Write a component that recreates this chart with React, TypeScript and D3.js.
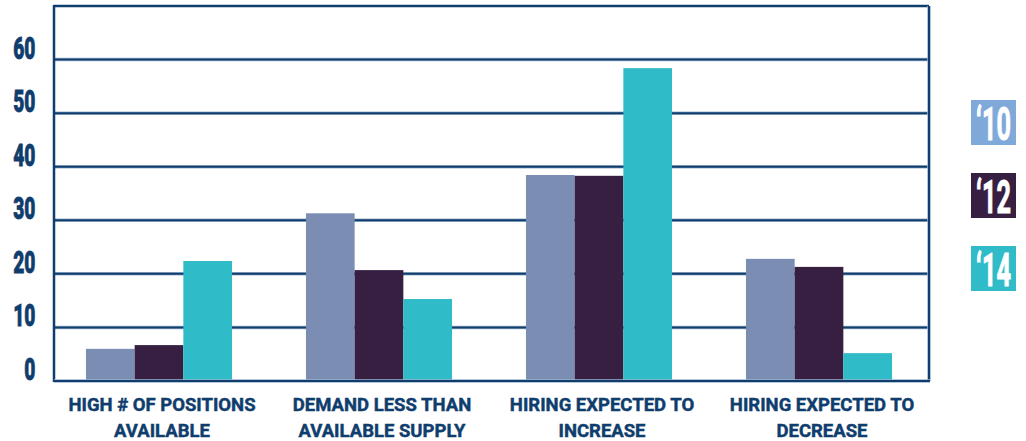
import React from "react";
import * as d3 from "d3";

const categories = [
  ["HIGH # OF POSITIONS", "AVAILABLE"],
  ["DEMAND LESS THAN", "AVAILABLE SUPPLY"],
  ["HIRING EXPECTED TO", "INCREASE"],
  ["HIRING EXPECTED TO", "DECREASE"],
];
const seriesNames = ["‘10", "‘12", "‘14"];
const values10 = [6.0, 31.3, 38.45, 22.8];
const values12 = [6.7, 20.7, 38.3, 21.3];
const values14 = [22.4, 15.3, 58.4, 5.2];
const yTicks = [0, 10, 20, 30, 40, 50, 60];

const barColors = ["#7b8db3", "#371f42", "#30bbc9"];
const legendColors = ["#7fa9d9", "#371f42", "#30bbc9"];
const navy = "#0f3d6d";

export default function App() {
  const W = 1026;
  const H = 441;
  const left = 54;
  const right = 929;
  const top = 6;
  const bottom = 381;

  const y = d3.scaleLinear().domain([0, 70]).range([bottom, top]);
  const x0 = d3
    .scaleBand<number>()
    .domain(categories.map((_, i) => i))
    .range([49, 929])
    .paddingInner(0.336)
    .paddingOuter(0.168);
  const x1 = d3
    .scaleBand<number>()
    .domain([0, 1, 2])
    .range([0, x0.bandwidth()]);
  const series = [values10, values12, values14];
  const font = "Roboto, 'DejaVu Sans', sans-serif";

  return (
    <svg
      width={W}
      height={H}
      style={{ position: "absolute", left: 0, top: 0, background: "#fff" }}
    >
      {/* gridlines */}
      {yTicks
        .filter((t) => t > 0)
        .map((t) => (
          <g key={t}>
            <line x1={left} x2={right} y1={y(t)} y2={y(t)} stroke="#9db3cc" strokeWidth={3.5} />
            <line x1={left} x2={right} y1={y(t)} y2={y(t)} stroke={navy} strokeWidth={2} />
          </g>
        ))}
      {/* bars */}
      {categories.map((_, ci) =>
        series.map((vals, si) => (
          <rect
            key={`${ci}-${si}`}
            x={(x0(ci) as number) + (x1(si) as number)}
            y={y(vals[ci])}
            width={x1.bandwidth()}
            height={bottom - y(vals[ci])}
            fill={barColors[si]}
          />
        ))
      )}
      {/* frame */}
      <line x1={left} x2={right} y1={top} y2={top} stroke={navy} strokeWidth={2.5} />
      <line x1={right} x2={right} y1={top} y2={bottom} stroke="#9db3cc" strokeWidth={3.5} />
      <line x1={right} x2={right} y1={top} y2={bottom} stroke={navy} strokeWidth={2} />
      <line x1={left} x2={left} y1={top - 1} y2={bottom + 1} stroke={navy} strokeWidth={2.5} />
      <line x1={left} x2={right + 1} y1={bottom} y2={bottom} stroke="#9db3cc" strokeWidth={3.5} />
      <line x1={left} x2={right + 1} y1={bottom} y2={bottom} stroke={navy} strokeWidth={2} />
      {/* y tick labels */}
      {yTicks.map((t) => (
        <text
          key={t}
          transform={`translate(35.5,${y(t) - 1}) scale(0.6,1)`}
          textAnchor="end"
          fontFamily={font}
          fontWeight={900}
          fontSize={32}
          fill={navy}
          stroke={navy}
          strokeWidth={0.8}
        >
          {t}
        </text>
      ))}
      {/* category labels */}
      {categories.map((lines, ci) => {
        const cx = (x0(ci) as number) + x0.bandwidth() / 2 + 3;
        return lines.map((ln, li) => (
          <text
            key={`${ci}-${li}`}
            transform={`translate(${cx},${411 + li * 25.5}) scale(1.0,1)`}
            textAnchor="middle"
            fontFamily={font}
            fontWeight={700}
            fontSize={18.5}
            fill={navy}
            stroke={navy}
            strokeWidth={0.45}
          >
            {ln}
          </text>
        ));
      })}
      {/* legend */}
      {seriesNames.map((s, i) => {
        const by = 100 + i * 73;
        return (
          <g key={s}>
            <rect x={971} y={by} width={45} height={45} fill={legendColors[i]} />
            <text
              transform={`translate(993.5,${by + 40}) scale(0.55,1)`}
              textAnchor="middle"
              fontFamily={font}
              fontWeight={700}
              fontSize={46}
              fill="#fff"
              stroke="#fff"
              strokeWidth={1}
            >
              {s}
            </text>
          </g>
        );
      })}
    </svg>
  );
}
